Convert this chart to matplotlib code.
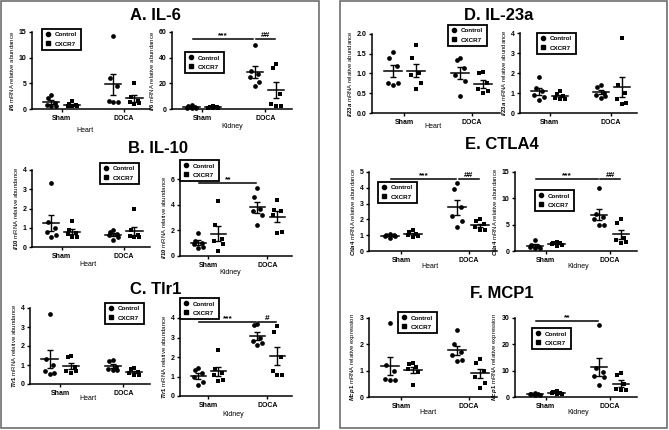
import matplotlib.pyplot as plt
from matplotlib.lines import Line2D
from matplotlib.patches import Rectangle
import numpy as np

plt.rcParams['font.family'] = ['Liberation Sans', 'DejaVu Sans']
plt.rcParams['font.weight'] = 'bold'
plt.rcParams['mathtext.fontset'] = 'custom'
plt.rcParams['mathtext.it'] = 'Liberation Sans:italic:bold'
plt.rcParams['mathtext.rm'] = 'Liberation Sans:bold'

categories = ["Sham", "DOCA"]
series = ["Control", "CXCR7"]

# each panel: [Sham Control, Sham CXCR7, DOCA Control, DOCA CXCR7]
il6_heart = [[2.7, 2.2, 1.2, 0.8, 0.5, 0.5], [1.5, 1.0, 0.7, 0.6, 0.5, 0.5],
             [14.2, 6.0, 4.5, 1.3, 1.5, 1.3], [5.0, 2.3, 1.5, 1.2, 1.0, 1.3]]
il6_kidney = [[3.0, 2.0, 1.5, 1.0, 1.0, 0.5], [2.0, 1.5, 1.2, 1.0, 0.8, 1.0],
              [50, 30, 27, 25, 21, 18], [35, 32, 12, 4, 2, 2]]
il10_heart = [[3.3, 1.3, 1.0, 0.8, 0.5, 0.6], [1.35, 0.9, 0.75, 0.7, 0.5, 0.5],
              [0.9, 0.8, 0.7, 0.6, 0.5, 0.35], [1.95, 0.9, 0.6, 0.55, 0.5, 0.5]]
il10_kidney = [[1.8, 1.2, 1.0, 0.9, 0.7, 0.6], [4.3, 2.4, 1.3, 1.2, 0.9, 0.4],
               [5.3, 4.6, 3.7, 3.5, 3.2, 2.4], [4.4, 3.6, 3.5, 3.2, 1.9, 1.8]]
tlr1_heart = [[3.7, 1.3, 1.0, 0.7, 0.6, 0.55], [1.5, 1.4, 0.9, 0.7, 0.7, 0.6],
              [1.25, 1.2, 0.9, 0.8, 0.75, 0.75], [0.85, 0.8, 0.65, 0.6, 0.5, 0.45]]
tlr1_kidney = [[1.45, 1.35, 1.2, 1.0, 0.7, 0.55], [2.35, 1.4, 1.2, 1.1, 0.8, 0.75],
               [3.7, 3.65, 3.0, 2.8, 2.7, 2.6], [3.6, 3.3, 2.0, 1.3, 1.1, 1.1]]
il23_heart = [[1.55, 1.4, 1.2, 0.75, 0.7, 0.75], [1.72, 1.4, 1.0, 0.95, 0.75, 0.62],
              [1.38, 1.35, 1.15, 0.95, 0.8, 0.43], [1.05, 1.0, 0.75, 0.6, 0.5, 0.55]]
il23_kidney = [[1.8, 1.25, 1.1, 0.9, 0.8, 0.65], [1.1, 0.95, 0.85, 0.75, 0.7, 0.7],
               [1.4, 1.3, 1.0, 0.9, 0.85, 0.75], [3.75, 1.4, 1.0, 0.7, 0.5, 0.45]]
ctla4_heart = [[1.05, 1.0, 1.0, 0.95, 0.95, 0.85], [1.35, 1.2, 1.1, 1.0, 0.95, 0.9],
               [4.3, 3.9, 2.8, 2.2, 1.9, 1.5], [2.0, 1.9, 1.7, 1.5, 1.3, 1.3]]
ctla4_kidney = [[2.0, 1.2, 1.0, 0.8, 0.6, 0.5], [1.8, 1.6, 1.5, 1.3, 1.2, 1.0],
                [12, 7, 6.5, 6, 5, 4.9], [6, 5.3, 2.5, 2.0, 1.7, 1.5]]
mcp1_heart = [[2.8, 1.2, 1.0, 0.7, 0.65, 0.65], [1.3, 1.25, 1.15, 1.05, 0.95, 0.45],
              [2.55, 2.0, 1.7, 1.6, 1.4, 1.35], [1.45, 1.3, 1.0, 0.75, 0.55, 0.35]]
mcp1_kidney = [[1.6, 1.3, 1.1, 1.0, 0.8, 0.7], [2.2, 1.8, 1.6, 1.5, 1.2, 1.1],
               [27.5, 11, 9.5, 8, 7.5, 4.5], [9, 8.5, 5, 3, 2.5, 2.5]]

ticks_15 = [0, 5, 10, 15]
ticks_60 = [0, 20, 40, 60]
ticks_4 = [0, 1, 2, 3, 4]
ticks_6 = [0, 2, 4, 6]
ticks_2 = [0.0, 0.5, 1.0, 1.5, 2.0]
ticks_5 = [0, 1, 2, 3, 4, 5]
ticks_3 = [0, 1, 2, 3]
ticks_30 = [0, 10, 20, 30]

titles = ["A. IL-6", "B. IL-10", "C. Tlr1", "D. IL-23a", "E. CTLA4", "F. MCP1"]

W, H = 669, 430
fig = plt.figure(figsize=(W / 100, H / 100), dpi=100)


def px_rect(l, t, r, b):
    return [l / W, 1 - b / H, (r - l) / W, (b - t) / H]


# group x positions: Sham Control, Sham CXCR7, DOCA Control, DOCA CXCR7
gx = [-0.17, 0.17, 0.83, 1.17]
spread = [0.0, -0.055, 0.055, -0.075, 0.075, 0.0]

# (data, ticks, fmt, gene, word, rect, legend pos, xlabel, xlabel pos, sig)
panels = [
    (il6_heart, ticks_15, "%d", "Il6", "abundance", (32, 32, 150, 109), (42, 29), "Heart", (85, 131), []),
    (il6_kidney, ticks_60, "%d", "Il6", "abundance", (172, 32, 292, 109), (185, 52), "Kidney", (232, 127),
     [(0, 2, 54.5, "***"), (2, 3, 54.5, "##")]),
    (il10_heart, ticks_4, "%d", "Il10", "abundance", (32, 170, 150, 247), (100, 163), "Heart", (88, 265), []),
    (il10_kidney, ticks_6, "%d", "Il10", "abundance", (180, 179, 292, 256), (180, 160), "Kidney", (230, 272),
     [(0, 2, 5.7, "**")]),
    (tlr1_heart, ticks_4, "%d", "Tlr1", "abundance", (30, 308, 150, 384), (105, 303), "Heart", (88, 398), []),
    (tlr1_kidney, ticks_4, "%d", "Tlr1", "abundance", (180, 318, 292, 396), (180, 298), "Kidney", (233, 414),
     [(0, 2, 3.8, "***"), (2, 3, 3.8, "#")]),
    (il23_heart, ticks_2, "%.1f", "Il23a", "abundance", (372, 34, 500, 113), (448, 25), "Heart", (433, 127), []),
    (il23_kidney, ticks_4, "%d", "Il23a", "abundance", (520, 33, 637, 113), (537, 33), None, None, []),
    (ctla4_heart, ticks_5, "%d", "Ctla4", "abundance", (369, 172, 497, 251), (378, 182), "Heart", (430, 266),
     [(0, 2, 4.55, "***"), (2, 3, 4.55, "##")]),
    (ctla4_kidney, ticks_15, "%d", "Ctla4", "abundance", (515, 172, 637, 251), (535, 190), "Kidney", (578, 267),
     [(0, 2, 13.7, "***"), (2, 3, 13.7, "##")]),
    (mcp1_heart, ticks_3, "%d", "Mcp1", "expression", (369, 318, 497, 397), (398, 312), "Heart", (428, 413), []),
    (mcp1_kidney, ticks_30, "%d", "Mcp1", "expression", (515, 318, 637, 397), (532, 328), "Kidney", (578, 413),
     [(0, 2, 28.9, "**")]),
]

for data, ticks, fmt, gene, word, rect, leg, xlab, xlab_pos, sig in panels:
    ax = fig.add_axes(px_rect(*rect))
    for g, vals in enumerate(data):
        vals = sorted(vals, reverse=True)
        xs = [gx[g] + spread[i] for i in range(len(vals))]
        ax.plot(xs, vals, linestyle="none", marker="o" if g % 2 == 0 else "s",
                color="black", markersize=3.4, markeredgewidth=0, clip_on=False)
        m = np.mean(vals)
        se = np.std(vals, ddof=1) / np.sqrt(len(vals))
        ax.plot([gx[g] - 0.13, gx[g] + 0.13], [m, m], color="black", lw=1.1, clip_on=False)
        ax.errorbar([gx[g]], [m], yerr=[se], color="black", lw=1.0, capsize=2.2,
                    capthick=1.0, clip_on=False)
    for a, b, y, txt in sig:
        ax.plot([gx[a] + 0.02, gx[b] - 0.02], [y, y], color="black", lw=1.1, clip_on=False)
        ax.text((gx[a] + gx[b]) / 2, y, txt, ha="center", va="bottom", fontsize=6,
                fontweight="bold")
    ax.set_xlim(-0.48, 1.42)
    ax.set_ylim(0, ticks[-1])
    ax.set_yticks(ticks)
    ax.set_yticklabels([fmt % t for t in ticks])
    ax.set_xticks([0, 1])
    ax.set_xticklabels(categories)
    ax.tick_params(labelsize=5, length=2.5, width=1.0, pad=1.5)
    for s in ["top", "right"]:
        ax.spines[s].set_visible(False)
    for s in ["left", "bottom"]:
        ax.spines[s].set_linewidth(1.1)
    ax.set_ylabel(r"$\mathit{" + gene + "}$ mRNA relative " + word, fontsize=4.3, labelpad=2)
    if xlab:
        fig.text(xlab_pos[0] / W, 1 - xlab_pos[1] / H, xlab, ha="center", va="center",
                 fontsize=5, fontweight="normal")
    handles = [Line2D([], [], marker="o", ls="none", color="black", markersize=3.0),
               Line2D([], [], marker="s", ls="none", color="black", markersize=3.0)]
    lg = ax.legend(handles, series, loc="upper left", bbox_to_anchor=(leg[0] / W, 1 - leg[1] / H),
                   bbox_transform=fig.transFigure, fontsize=4.5, fancybox=False,
                   edgecolor="black", framealpha=1, borderpad=0.5, handlelength=1.0,
                   handletextpad=0.6, labelspacing=0.6, borderaxespad=0)
    lg.get_frame().set_linewidth(1.3)

title_pos = [(155, 15), (158, 148), (156, 289), (499, 16), (502, 145), (502, 293)]
for t, (x, y) in zip(titles, title_pos):
    fig.text(x / W, 1 - y / H, t, ha="center", va="center", fontsize=12, fontweight="bold")

for l, t, r, b in [(1, 1, 319, 428), (340, 1, 667, 428)]:
    fig.patches.append(Rectangle((l / W, 1 - b / H), (r - l) / W, (b - t) / H, fill=False,
                                 edgecolor="#6e6e6e", lw=1.2, transform=fig.transFigure))

fig.savefig("out.png", dpi=100)
